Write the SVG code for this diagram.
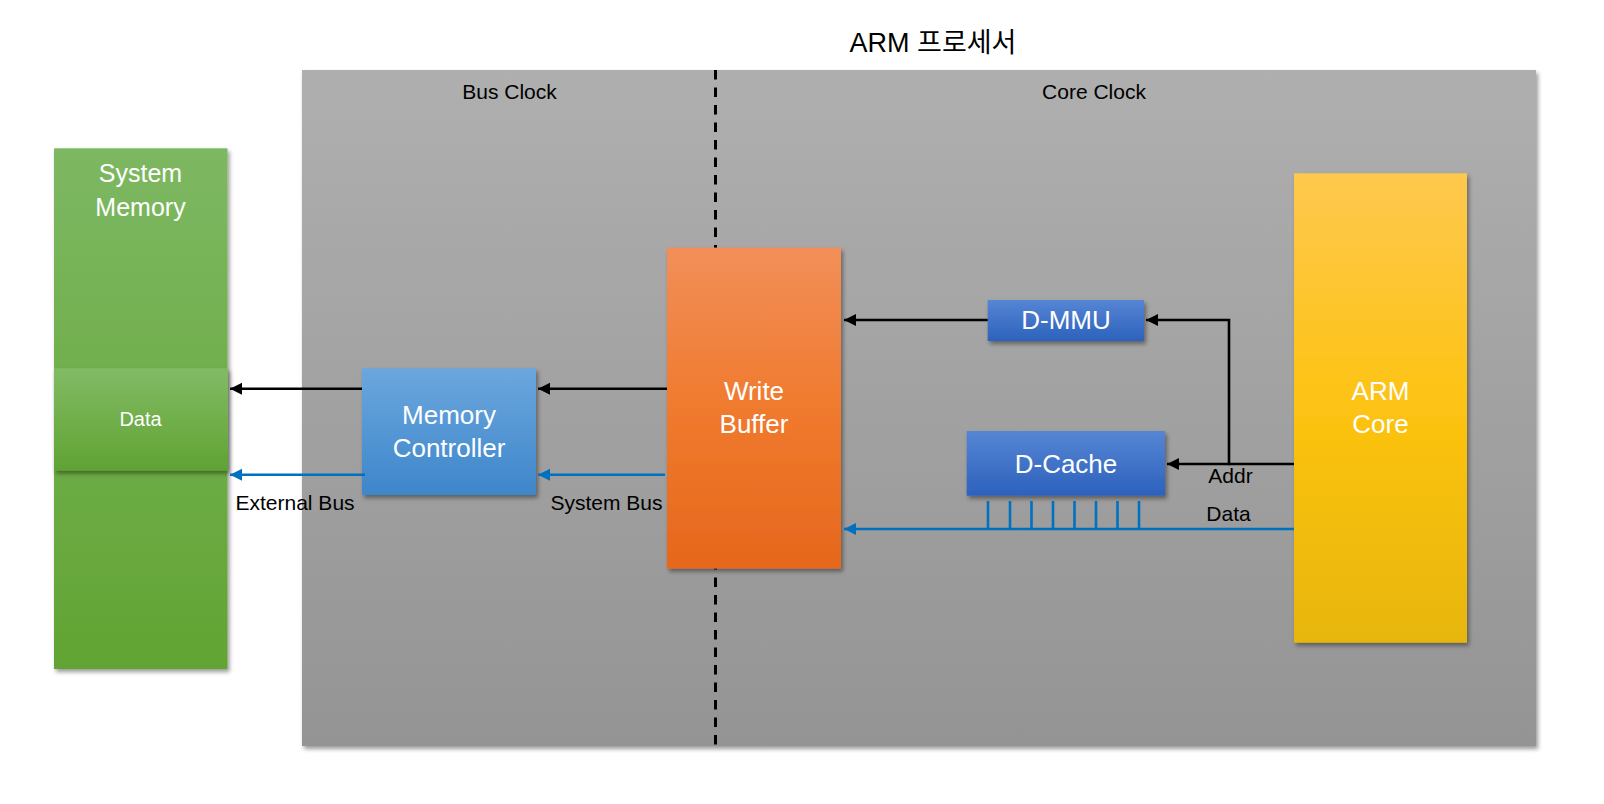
<svg xmlns="http://www.w3.org/2000/svg" width="1604" height="804" viewBox="0 0 1604 804">
<defs>
<style>
.lbl{font-family:"Liberation Sans","Noto Sans CJK KR",sans-serif;fill:#000;font-size:21px}
.ttl{font-size:27px}
.wt{font-family:"Liberation Sans",sans-serif;fill:#fff;font-size:26px;text-anchor:middle}
.wt25{font-size:25px}
.wt20{font-size:20px}
.blk{stroke:#000;stroke-width:2.6;fill:none}
.blu{stroke:#0070c0;stroke-width:2.6;fill:none}
</style>
<linearGradient id="gGray" x1="0" y1="0" x2="0" y2="1"><stop offset="0" stop-color="#afafaf"/><stop offset="1" stop-color="#949494"/></linearGradient>
<linearGradient id="gGreen" x1="0" y1="0" x2="0" y2="1"><stop offset="0" stop-color="#7db862"/><stop offset="1" stop-color="#62a433"/></linearGradient>
<linearGradient id="gData" x1="0" y1="0" x2="0" y2="1"><stop offset="0" stop-color="#82bb65"/><stop offset="1" stop-color="#60a333"/></linearGradient>
<linearGradient id="gMC" x1="0" y1="0" x2="0" y2="1"><stop offset="0" stop-color="#6ba7de"/><stop offset="1" stop-color="#3e86ca"/></linearGradient>
<linearGradient id="gWB" x1="0" y1="0" x2="0" y2="1"><stop offset="0" stop-color="#f28f59"/><stop offset="0.5" stop-color="#f07a2e"/><stop offset="1" stop-color="#e6671c"/></linearGradient>
<linearGradient id="gBlue" x1="0" y1="0" x2="0" y2="1"><stop offset="0" stop-color="#5685d4"/><stop offset="1" stop-color="#2c62bc"/></linearGradient>
<linearGradient id="gArm" x1="0" y1="0" x2="0" y2="1"><stop offset="0" stop-color="#fec84e"/><stop offset="0.5" stop-color="#fdc312"/><stop offset="1" stop-color="#e7b607"/></linearGradient>
<filter id="sh" x="-10%" y="-10%" width="130%" height="130%"><feDropShadow dx="2" dy="3" stdDeviation="2" flood-color="#000" flood-opacity="0.4"/></filter>
<marker id="aK" markerUnits="userSpaceOnUse" markerWidth="13" markerHeight="13" refX="12" refY="6.5" orient="auto"><path d="M0,0.5 L12,6.5 L0,12.5 z" fill="#000"/></marker>
<marker id="aB" markerUnits="userSpaceOnUse" markerWidth="13" markerHeight="13" refX="12" refY="6.5" orient="auto"><path d="M0,0.5 L12,6.5 L0,12.5 z" fill="#0070c0"/></marker>
</defs>
<rect width="1604" height="804" fill="#fff"/>

<g id="processor">
<rect x="302" y="70" width="1234" height="676" fill="url(#gGray)" filter="url(#sh)"/>
<text class="lbl ttl" x="933" y="52" text-anchor="middle">ARM 프로세서</text>
<text class="lbl" x="509.5" y="99" text-anchor="middle">Bus Clock</text>
<text class="lbl" x="1094" y="99" text-anchor="middle">Core Clock</text>
<line x1="715.5" y1="70" x2="715.5" y2="746" stroke="#000" stroke-width="3" stroke-dasharray="9.5 8"/>
</g>

<g id="system-memory">
<rect x="54" y="148.3" width="173.5" height="520.7" fill="url(#gGreen)" filter="url(#sh)"/>
<text class="wt wt25" x="140.5" y="181.7">System</text>
<text class="wt wt25" x="140.5" y="216">Memory</text>
</g>

<g id="data">
<rect x="54" y="368.3" width="174" height="102.3" fill="url(#gData)" filter="url(#sh)"/>
<text class="wt wt20" x="140.5" y="425.5">Data</text>
</g>

<g id="memory-controller">
<rect x="362" y="368.3" width="174" height="126.7" fill="url(#gMC)" filter="url(#sh)"/>
<text class="wt" x="449" y="423.5">Memory</text>
<text class="wt" x="449" y="457">Controller</text>
</g>

<g id="write-buffer">
<rect x="667" y="247.6" width="174" height="321" fill="url(#gWB)" filter="url(#sh)"/>
<text class="wt" x="754" y="400">Write</text>
<text class="wt" x="754" y="433.3">Buffer</text>
</g>

<g id="d-mmu">
<rect x="987.7" y="300" width="156.3" height="41" fill="url(#gBlue)" filter="url(#sh)"/>
<text class="wt" x="1066" y="329">D-MMU</text>
</g>

<g id="d-cache">
<rect x="966.7" y="431" width="198.3" height="64.7" fill="url(#gBlue)" filter="url(#sh)"/>
<text class="wt" x="1066" y="472.7">D-Cache</text>
</g>

<g id="arm-core">
<rect x="1294" y="173.3" width="173" height="469.4" fill="url(#gArm)" filter="url(#sh)"/>
<text class="wt" x="1380.5" y="400">ARM</text>
<text class="wt" x="1380.5" y="433.3">Core</text>
</g>

<g id="connectors">
<line class="blk" x1="667" y1="388.7" x2="538" y2="388.7" marker-end="url(#aK)"/>
<line class="blk" x1="362" y1="388.7" x2="230" y2="388.7" marker-end="url(#aK)"/>
<line class="blu" x1="665" y1="474.7" x2="538" y2="474.7" marker-end="url(#aB)"/>
<line class="blu" x1="365" y1="474.7" x2="230" y2="474.7" marker-end="url(#aB)"/>
<line class="blk" x1="987.7" y1="320" x2="844" y2="320" marker-end="url(#aK)"/>
<line class="blk" x1="1294" y1="464" x2="1167" y2="464" marker-end="url(#aK)"/>
<polyline class="blk" points="1229,465.3 1229,320 1146,320" marker-end="url(#aK)"/>
<line class="blu" x1="1294" y1="529" x2="844" y2="529" marker-end="url(#aB)"/>
<path class="blu" d="M988,501 V529 M1010,501 V529 M1031.5,501 V529 M1053,501 V529 M1074.5,501 V529 M1096,501 V529 M1117.5,501 V529 M1139,501 V529"/>
<text class="lbl" x="235.5" y="509.5">External Bus</text>
<text class="lbl" x="550.5" y="509.5">System Bus</text>
<text class="lbl" x="1230.5" y="483.3" text-anchor="middle">Addr</text>
<text class="lbl" x="1228.5" y="520.7" text-anchor="middle">Data</text>
</g>
</svg>
